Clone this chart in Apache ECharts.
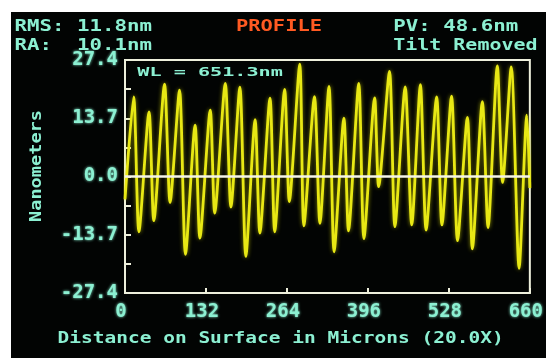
<!DOCTYPE html>
<html>
<head>
<meta charset="utf-8">
<script src="https://cdn.jsdelivr.net/npm/echarts@6/dist/echarts.min.js"></script>
<style>
html,body{margin:0;padding:0;background:#ffffff;overflow:hidden;}
#bg{position:absolute;left:11px;top:12px;width:535px;height:346px;background:#020403;}
#c{position:absolute;left:0;top:0;width:546px;height:358px;}
</style>
</head>
<body>
<div id="bg"></div>
<div id="c"></div>
<script>
// Profile trace: distance on surface (microns) and height (nm)
const xMicrons = [0, 14.1, 22.7, 39.2, 47.0, 64.5, 73.5, 88.9, 98.6, 114.3,
  122.1, 139.0, 146.3, 163.5, 172.7, 187.3, 197.0, 212.1, 219.9, 236.4,
  244.1, 260.3, 267.9, 284.9, 291.6, 308.9, 317.8, 332.6, 340.9, 356.9,
  364.4, 381.1, 389.5, 407.0, 413.5, 431.2, 440.0, 456.8, 467.5, 481.6,
  490.9, 508.1, 516.7, 532.4, 542.1, 558.2, 566.3, 582.6, 591.9, 607.0,
  615.6, 629.7, 642.5, 655.1, 660];
const heightNm = [-5.4, 18.7, -13.0, 15.2, -10.4, 21.7, -6.1, 20.3, -18.3, 12.1,
  -14.5, 15.6, -8.6, 21.9, -7.2, 21.0, -18.8, 13.4, -13.3, 18.4,
  -13.0, 20.5, -5.9, 26.4, -11.6, 18.8, -11.0, 21.2, -17.7, 13.7,
  -12.8, 21.9, -14.6, 18.5, -2.4, 24.7, -11.8, 21.1, -11.4, 21.6,
  -12.6, 18.7, -11.4, 18.9, -15.1, 13.9, -17.0, 17.6, -12.0, 26.0,
  -1.4, 25.8, -21.6, 14.4, -2.7];

const xTicks = [0, 660, 132];          // min, max, interval
const yTicks = [-27.4, 27.4, 6.85];    // min, max, interval (labels every 13.7)

const headerLeft = ['RMS: 11.8nm', 'RA:  10.1nm'];
const headerRight = ['PV: 48.6nm', 'Tilt Removed'];
const titleText = 'PROFILE';
const wlText = 'WL = 651.3nm';
const xName = 'Distance on Surface in Microns (20.0X)';
const yName = 'Nanometers';

const CYAN = '#8cf0d2';
const FRAME = '#eef0dc';
const YELLOW = '#e8e814';
const ORANGE = '#ff5a22';
const MONO = '"DejaVu Sans Mono", "Liberation Mono", monospace';

const data = xMicrons.map((x, i) => [x, heightNm[i]]);

function txt(text, x, y, color, size, sx, extra) {
  const el = {
    type: 'text', x: x, y: y, scaleX: sx, z: 10,
    style: {
      text: text, x: 0, y: 0, fill: color,
      font: 'bold ' + size + 'px ' + MONO,
      align: 'left', verticalAlign: 'middle',
      shadowBlur: 3, shadowColor: color
    }
  };
  return Object.assign(el, extra || {});
}

const chart = echarts.init(document.getElementById('c'), null, {renderer: 'canvas'});
chart.setOption({
  animation: false,
  backgroundColor: 'transparent',
  grid: {
    left: 125, top: 60, width: 407, height: 233,
    show: true, borderColor: FRAME, borderWidth: 2, backgroundColor: 'transparent'
  },
  graphic: [
    txt(headerLeft[0], 14.6, 27.5, CYAN, 15, 1.384),
    txt(headerLeft[1], 14.6, 46.5, CYAN, 15, 1.384),
    txt(titleText, 236, 27.5, ORANGE, 15, 1.36),
    txt(headerRight[0], 393.3, 27.5, CYAN, 15, 1.384),
    txt(headerRight[1], 393.3, 46, CYAN, 15, 1.33),
    txt(wlText, 137.3, 72.5, CYAN, 13, 1.55),
    txt(xName, 57.5, 339, CYAN, 15, 1.3),
    {
      type: 'text', x: 37.5, y: 166, rotation: Math.PI / 2, scaleX: 1.24, z: 10,
      style: {
        text: yName, x: 0, y: 0, fill: CYAN,
        font: 'bold 15px ' + MONO, align: 'center', verticalAlign: 'middle',
        shadowBlur: 3, shadowColor: CYAN
      }
    }
  ],
  xAxis: {
    type: 'value', min: xTicks[0], max: xTicks[1], interval: xTicks[2],
    axisLine: {show: true, onZero: false, lineStyle: {color: FRAME, width: 2}},
    axisTick: {show: true, inside: true, length: 5, lineStyle: {color: FRAME, width: 2}},
    splitLine: {show: false},
    axisLabel: {
      color: CYAN, fontFamily: MONO, fontWeight: 'bold', fontSize: 19,
      margin: 10, padding: [0, 8, 0, 0], showMinLabel: true, showMaxLabel: true,
      textShadowBlur: 3, textShadowColor: CYAN
    }
  },
  yAxis: {
    type: 'value', min: yTicks[0], max: yTicks[1], interval: yTicks[2],
    axisLine: {show: true, onZero: false, lineStyle: {color: FRAME, width: 2}},
    axisTick: {show: true, inside: true, length: 6, lineStyle: {color: FRAME, width: 2}},
    splitLine: {show: false},
    axisLabel: {
      color: CYAN, fontFamily: MONO, fontWeight: 'bold', fontSize: 19, margin: 7,
      showMinLabel: true, showMaxLabel: true,
      textShadowBlur: 3, textShadowColor: CYAN,
      formatter: function (v) {
        const k = v / 13.7;
        if (Math.abs(k - Math.round(k)) > 1e-6) return '';
        if (Math.abs(v) < 1e-6) return '0.0';
        return v.toFixed(1);
      }
    }
  },
  series: [{
    type: 'line',
    data: data,
    showSymbol: false,
    smooth: 0.25,
    lineStyle: {color: YELLOW, width: 2.8, shadowBlur: 4, shadowColor: 'rgba(230,230,0,0.6)'},
    markLine: {
      silent: true, symbol: ['none', 'none'],
      label: {show: false},
      lineStyle: {color: '#f4f4e6', width: 2.5, type: 'solid'},
      data: [{yAxis: 0}]
    }
  }]
});
</script>
</body>
</html>
